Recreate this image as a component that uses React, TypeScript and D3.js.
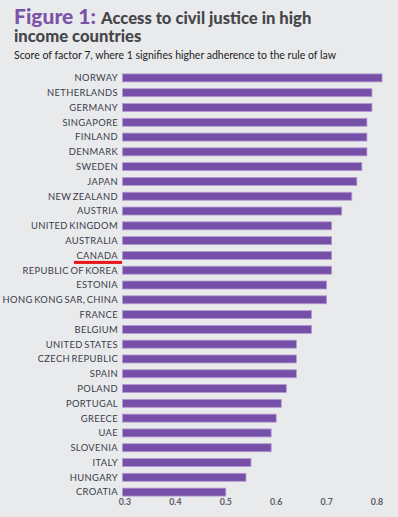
import React from "react";
import * as d3 from "d3";

const countries = [
  "NORWAY", "NETHERLANDS", "GERMANY", "SINGAPORE", "FINLAND", "DENMARK", "SWEDEN",
  "JAPAN", "NEW ZEALAND", "AUSTRIA", "UNITED KINGDOM", "AUSTRALIA", "CANADA",
  "REPUBLIC OF KOREA", "ESTONIA", "HONG KONG SAR, CHINA", "FRANCE", "BELGIUM",
  "UNITED STATES", "CZECH REPUBLIC", "SPAIN", "POLAND", "PORTUGAL", "GREECE",
  "UAE", "SLOVENIA", "ITALY", "HUNGARY", "CROATIA",
];
const scores = [
  0.81, 0.79, 0.79, 0.78, 0.78, 0.78, 0.77,
  0.76, 0.75, 0.73, 0.71, 0.71, 0.71,
  0.71, 0.70, 0.70, 0.67, 0.67,
  0.64, 0.64, 0.64, 0.62, 0.61, 0.60,
  0.59, 0.59, 0.55, 0.54, 0.50,
];
const ticks = [0.3, 0.4, 0.5, 0.6, 0.7, 0.8];
const highlight = "CANADA";

const W = 398, H = 517;

export default function App() {
  const x = d3.scaleLinear().domain([0.3, 0.8]).range([125, 377]);
  const y = d3.scaleBand().domain(countries).range([70.5, 499.5]).paddingInner(0.46).paddingOuter(0.23);
  const bh = y.bandwidth();
  const font = "Lato, 'Open Sans', sans-serif";
  return (
    <svg width={W} height={H} style={{ position: "absolute", left: 0, top: 0 }} fontFamily={font}>
      <rect width={W} height={H} fill="#e9eaec" />
      <text x={14} y={24} fontWeight={900}>
        <tspan fill="#7b53a8" fontSize={21}>Figure 1:</tspan>
        <tspan fill="#46464b" fontSize={16.6} dx={5}>Access to civil justice in high</tspan>
      </text>
      <text x={14} y={42} fontWeight={900} fill="#46464b" fontSize={16.6}>income countries</text>
      <text x={14} y={59} fill="#222" fontSize={10.5}>Score of factor 7, where 1 signifies higher adherence to the rule of law</text>
      {countries.map((c, i) => {
        const yy = y(c)!;
        return (
          <g key={c}>
            <rect x={x(0.3) - 2.5} y={yy} width={x(scores[i]) - x(0.3) + 2.5} height={bh}
              fill="#7650a8" stroke="#b29bd0" strokeWidth={0.8} />
            <text x={118} y={yy + bh / 2} dy="0.36em" textAnchor="end" fontSize={9.4}
              letterSpacing={0.35} wordSpacing={-1.2} fill="#3a3d4a">{c}</text>
            {c === highlight && (
              <rect x={74} y={yy + bh / 2 + 5.5} width={48} height={3} fill="#e8151b" />
            )}
          </g>
        );
      })}
      {ticks.map((t) => (
        <text key={t} x={x(t)} y={502} dy="0.35em" textAnchor="middle" fontSize={8.8}
          fontWeight={700} fill="#5a5c66">{t.toFixed(1)}</text>
      ))}
    </svg>
  );
}
